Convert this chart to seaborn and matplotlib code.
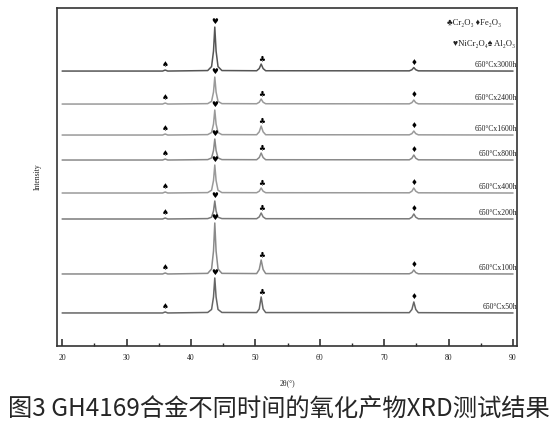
import numpy as np
import pandas as pd
import matplotlib
matplotlib.use("Agg")
import matplotlib.pyplot as plt
import seaborn as sns
from matplotlib.ticker import MultipleLocator

# shared 2theta vertices (deg)
two_theta = [20, 35.6, 36.0, 36.4, 42.6, 43.2, 43.5, 43.7, 43.9, 44.2, 44.8,
             50.2, 50.6, 50.9, 51.2, 51.6, 73.9, 74.3, 74.6, 74.9, 75.3, 90]

samples = ["650°Cx3000h", "650°Cx2400h", "650°Cx1600h", "650°Cx800h",
           "650°Cx400h", "650°Cx200h", "650°Cx100h", "650°Cx50h"]

# stacking offset of each pattern (arb. units)
offsets = [275, 242, 211, 186, 153, 127, 72, 33]

# intensity above baseline at each vertex (arb. units)
i_3000 = [0, 0, 1, 0, 0.5, 4.5, 20, 44, 20, 4.5, 0.5, 0.3, 2.5, 7, 2.5, 0.3, 0.2, 1.3, 3.5, 1.3, 0.2, 0]
i_2400 = [0, 0, 1, 0, 0.4, 2.7, 12, 27, 12, 2.7, 0.4, 0.3, 1.8, 5, 1.8, 0.3, 0.2, 1.4, 4, 1.4, 0.2, 0]
i_1600 = [0, 0, 1, 0, 0.4, 2.5, 11, 25, 11, 2.5, 0.4, 0.3, 3.2, 9, 3.2, 0.3, 0.2, 1.4, 4, 1.4, 0.2, 0]
i_800 = [0, 0, 1, 0, 0.4, 2.1, 9.5, 21, 9.5, 2.1, 0.4, 0.3, 2.5, 7, 2.5, 0.3, 0.2, 1.8, 5, 1.8, 0.2, 0]
i_400 = [0, 0, 1, 0, 0.4, 2.8, 12.5, 28, 12.5, 2.8, 0.4, 0.3, 1.8, 5, 1.8, 0.3, 0.2, 1.8, 5, 1.8, 0.2, 0]
i_200 = [0, 0, 1, 0, 0.4, 1.8, 8, 18, 8, 1.8, 0.4, 0.3, 2.1, 6, 2.1, 0.3, 0.2, 1.8, 5, 1.8, 0.2, 0]
i_100 = [0, 0, 1, 0, 0.6, 5, 23, 51, 23, 5, 0.6, 0.4, 4.5, 14, 4.5, 0.4, 0.2, 1.4, 4, 1.4, 0.2, 0]
i_50 = [0, 0, 1, 0, 0.5, 3.5, 16, 35, 16, 3.5, 0.5, 0.4, 4, 16, 4, 0.4, 0.3, 3.5, 11, 3.5, 0.3, 0]
intensities = [i_3000, i_2400, i_1600, i_800, i_400, i_200, i_100, i_50]

line_colors = ["#555555", "#9a9a9a", "#9a9a9a", "#8a8a8a",
               "#9a9a9a", "#7a7a7a", "#8a8a8a", "#666666"]

# phase markers: (2theta, symbol)
phase_pos = [36.0, 43.7, 50.9, 74.6]
phase_sym = ["♠", "♥", "♣", "♦"]

legend_lines = ["♣Cr₂O₃ ♦Fe₂O₃", "♥NiCr₂O₄♠ Al₂O₃"]

caption = "图3 GH4169合金不同时间的氧化产物XRD测试结果"

rows = []
for name, off, vals in zip(samples, offsets, intensities):
    for t, v in zip(two_theta, vals):
        rows.append({"two_theta": t, "intensity": off + v, "sample": name})
df = pd.DataFrame(rows)

sns.set_style("ticks")
plt.rcParams["font.family"] = ["Liberation Serif", "DejaVu Sans"]

fig = plt.figure(figsize=(5.57, 4.25), dpi=100)
ax = fig.add_axes([0.1023, 0.186, 0.8257, 0.795])

sns.lineplot(data=df, x="two_theta", y="intensity", hue="sample",
             palette=dict(zip(samples, line_colors)), sort=False,
             estimator=None, legend=False, linewidth=1.1, ax=ax)

# phase symbols above peaks
for off, vals in zip(offsets, intensities):
    for pos, sym in zip(phase_pos, phase_sym):
        peak = off + vals[two_theta.index(pos)]
        ax.text(pos, peak + 1.0, sym, ha="center", va="bottom", fontsize=5.5,
                family="DejaVu Sans", color="black")

# sample labels
for name, off in zip(samples, offsets):
    ax.text(90.6, off + 2, name, ha="right", va="bottom", fontsize=5.5,
            color="#222222")

ax.text(79.8, 323, legend_lines[0], ha="left", va="center", fontsize=6.2,
        color="#222222")
ax.text(80.7, 302, legend_lines[1], ha="left", va="center", fontsize=6.2,
        color="#222222", clip_on=True)

ax.set_xlim(19.2, 90.6)
ax.set_ylim(0, 338)
ax.xaxis.set_major_locator(MultipleLocator(10))
ax.xaxis.set_minor_locator(MultipleLocator(5))
ax.set_yticks([])
ax.tick_params(axis="x", which="major", direction="in", length=5, width=1.1,
               labelsize=5.5, pad=6, colors="#222222")
ax.tick_params(axis="x", which="minor", direction="in", length=2.5, width=1.0)
for s in ax.spines.values():
    s.set_visible(True)
    s.set_linewidth(1.2)
    s.set_color("#333333")

ax.set_xlabel("2θ(°)", fontsize=5.5, labelpad=12, color="#222222")
ax.set_ylabel("Intensity", fontsize=5.5, labelpad=11, color="#222222")

fig.text(0.5, 1 - 410 / 425, caption, ha="center", va="center", fontsize=17.5,
         family=["Noto Sans CJK SC", "DejaVu Sans"])

fig.savefig("out.png", dpi=100)
plt.close(fig)
